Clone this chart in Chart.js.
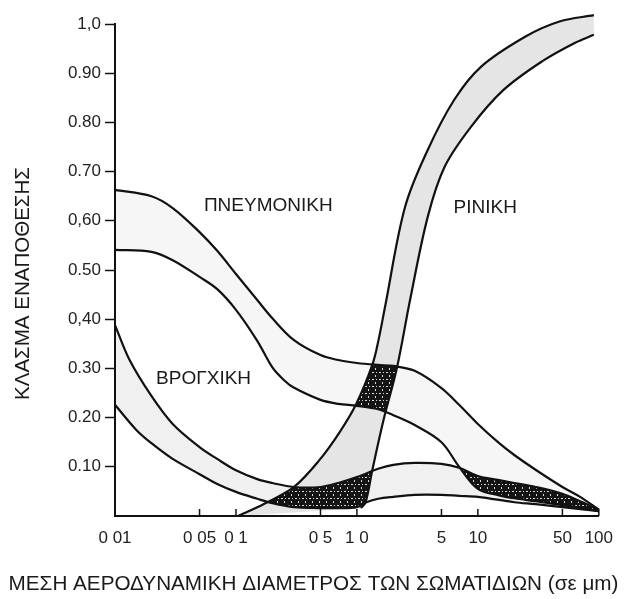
<!DOCTYPE html>
<html>
<head>
<meta charset="utf-8">
<style>
html,body{margin:0;padding:0;background:#fff;}
#wrap{width:625px;height:599px;position:relative;}
</style>
<script src="https://cdn.jsdelivr.net/npm/chart.js@4.4.1/dist/chart.umd.min.js"></script>
</head>
<body>
<div id="wrap"><canvas id="c" width="625" height="599"></canvas></div>
<script>
// ---- tick values and labels ----
const xTickValues = [0.01, 0.05, 0.1, 0.5, 1, 5, 10, 50, 100];
const xTickLabels = ['0 01', '0 05', '0 1', '0 5', '1 0', '5', '10', '50', '100'];
const yTickValues = [0.1, 0.2, 0.3, 0.4, 0.5, 0.6, 0.7, 0.8, 0.9, 1.0];
const yTickLabels = ['0.10', '0.20', '0.30', '0,40', '0.50', '0,60', '0.70', '0.80', '0.90', '1,0'];

// ---- ΠΝΕΥΜΟΝΙΚΗ band (pulmonary) ----
const pulmUpperX = [0.01, 0.02, 0.03, 0.05, 0.07, 0.1, 0.15, 0.2, 0.3, 0.5, 0.7, 1, 1.5, 2, 3, 5, 7, 10, 15, 20, 30, 50, 70, 100];
const pulmUpperY = [0.663, 0.650, 0.626, 0.577, 0.539, 0.492, 0.439, 0.402, 0.358, 0.327, 0.317, 0.311, 0.307, 0.305, 0.295, 0.260, 0.226, 0.187, 0.148, 0.124, 0.094, 0.059, 0.039, 0.013];
const pulmLowerX = [0.01, 0.02, 0.03, 0.05, 0.07, 0.1, 0.15, 0.2, 0.25, 0.3, 0.5, 0.7, 1, 1.5, 2, 3, 5, 7, 10, 15, 20, 30, 50, 70, 100];
const pulmLowerY = [0.541, 0.537, 0.520, 0.486, 0.461, 0.419, 0.356, 0.302, 0.276, 0.261, 0.236, 0.228, 0.224, 0.217, 0.205, 0.185, 0.150, 0.100, 0.055, 0.042, 0.036, 0.030, 0.022, 0.017, 0.010];

// ---- ΒΡΟΓΧΙΚΗ band (tracheobronchial) ----
const bronchUpperX = [0.01, 0.0132, 0.02, 0.03, 0.05, 0.07, 0.1, 0.15, 0.2, 0.3, 0.5, 0.7, 1, 1.5, 2, 3, 5, 7, 10, 15, 20, 30, 50, 70, 100];
const bronchUpperY = [0.388, 0.317, 0.244, 0.187, 0.140, 0.116, 0.093, 0.075, 0.067, 0.059, 0.059, 0.067, 0.079, 0.096, 0.104, 0.108, 0.106, 0.098, 0.081, 0.073, 0.067, 0.059, 0.045, 0.030, 0.013];
const bronchLowerX = [0.01, 0.015, 0.02, 0.03, 0.05, 0.07, 0.1, 0.15, 0.2, 0.3, 0.5, 0.7, 1, 1.2, 1.5, 2, 3, 5, 7, 10, 20, 30, 50, 100];
const bronchLowerY = [0.226, 0.175, 0.148, 0.116, 0.085, 0.065, 0.049, 0.035, 0.026, 0.018, 0.016, 0.016, 0.018, 0.028, 0.035, 0.039, 0.043, 0.043, 0.041, 0.039, 0.028, 0.024, 0.018, 0.010];

// ---- ΡΙΝΙΚΗ band (nasal) ----
const nasalLeftX  = [0.104, 0.118, 0.182, 0.302, 0.491, 0.714, 0.98, 1.34, 1.51, 1.72, 2.5, 3.85, 6.38, 10.6, 25, 47.3, 91];
const nasalLeftY  = [0.0, 0.006, 0.028, 0.059, 0.114, 0.169, 0.226, 0.307, 0.358, 0.429, 0.628, 0.744, 0.846, 0.913, 0.975, 1.005, 1.018];
const nasalRightX = [1.078, 1.18, 1.34, 1.66, 2.15, 2.75, 3.85, 5.29, 8.77, 16.3, 34.4, 63.8, 91];
const nasalRightY = [0.016, 0.028, 0.093, 0.195, 0.303, 0.439, 0.608, 0.709, 0.791, 0.866, 0.925, 0.962, 0.978];

// ---- band labels (in data coordinates) ----
const bandNames  = ['ΠΝΕΥΜΟΝΙΚΗ', 'ΡΙΝΙΚΗ', 'ΒΡΟΓΧΙΚΗ'];
const bandLabelX = [0.185, 11.5, 0.054];
const bandLabelY = [0.630, 0.626, 0.278];

const xTitle = 'ΜΕΣΗ ΑΕΡΟΔΥΝΑΜΙΚΗ ΔΙΑΜΕΤΡΟΣ ΤΩΝ ΣΩΜΑΤΙΔΙΩΝ (σε μm)';
const yTitle = 'ΚΛΑΣΜΑ ΕΝΑΠΟΘΕΣΗΣ';

const FONT = '"Liberation Sans", Arial, Helvetica, sans-serif';

function pts(xs, ys) { return xs.map((x, i) => ({ x: x, y: ys[i] })); }

function lineDs(xs, ys) {
  return {
    data: pts(xs, ys),
    borderColor: '#111',
    borderWidth: 2.2,
    pointRadius: 0,
    tension: 0.35,
    fill: false,
    clip: false
  };
}

// bands: [upper/left dataset index, lower/right dataset index, light fill]
const bands = [
  [0, 1, 'rgba(0,0,0,0.035)'],
  [2, 3, 'rgba(0,0,0,0.06)'],
  [4, 5, 'rgba(0,0,0,0.10)']
];

function makeDarkPattern(ctx) {
  const c = document.createElement('canvas');
  c.width = 7; c.height = 7;
  const g = c.getContext('2d');
  g.fillStyle = '#141414';
  g.fillRect(0, 0, 7, 7);
  g.fillStyle = '#d8d8d8';
  g.fillRect(1, 1, 2, 1);
  g.fillRect(4, 4, 1, 2);
  g.fillRect(5, 1, 1, 1);
  return ctx.createPattern(c, 'repeat');
}

function bandPath(ctx, chart, ia, ib) {
  const ma = chart.getDatasetMeta(ia), mb = chart.getDatasetMeta(ib);
  ma.dataset.updateControlPoints(chart.chartArea, ma.iScale.axis);
  mb.dataset.updateControlPoints(chart.chartArea, mb.iScale.axis);
  const a = ma.data, b = mb.data;
  ctx.beginPath();
  ctx.moveTo(a[0].x, a[0].y);
  for (let i = 1; i < a.length; i++) {
    ctx.bezierCurveTo(a[i - 1].cp2x, a[i - 1].cp2y, a[i].cp1x, a[i].cp1y, a[i].x, a[i].y);
  }
  const n = b.length;
  ctx.lineTo(b[n - 1].x, b[n - 1].y);
  for (let i = n - 1; i > 0; i--) {
    ctx.bezierCurveTo(b[i].cp1x, b[i].cp1y, b[i - 1].cp2x, b[i - 1].cp2y, b[i - 1].x, b[i - 1].y);
  }
  ctx.closePath();
}

const bandFillPlugin = {
  id: 'bandFill',
  beforeDatasetsDraw(chart) {
    const ctx = chart.ctx;
    ctx.save();
    bands.forEach(b => {
      bandPath(ctx, chart, b[0], b[1]);
      ctx.fillStyle = b[2];
      ctx.fill();
    });
    const dark = makeDarkPattern(ctx);
    for (let i = 0; i < bands.length; i++) {
      for (let j = i + 1; j < bands.length; j++) {
        ctx.save();
        bandPath(ctx, chart, bands[i][0], bands[i][1]);
        ctx.clip();
        bandPath(ctx, chart, bands[j][0], bands[j][1]);
        ctx.fillStyle = dark;
        ctx.fill();
        ctx.restore();
      }
    }
    ctx.restore();
  }
};

function fitFont(ctx, text, width, base) {
  ctx.font = base + 'px ' + FONT;
  const w = ctx.measureText(text).width;
  return base * width / w;
}

const textPlugin = {
  id: 'texts',
  afterDraw(chart) {
    const ctx = chart.ctx;
    const xs = chart.scales.x, ys = chart.scales.y;
    ctx.save();
    // inner x ticks
    ctx.strokeStyle = '#111';
    ctx.lineWidth = 1.5;
    xTickValues.forEach(v => {
      const px = xs.getPixelForValue(v);
      if (px <= xs.left + 1) return;
      ctx.beginPath();
      ctx.moveTo(px, ys.bottom);
      ctx.lineTo(px, ys.bottom - 7);
      ctx.stroke();
    });
    ctx.fillStyle = '#1a1a1a';
    ctx.textAlign = 'center';
    ctx.textBaseline = 'middle';
    // band labels
    ctx.font = '19px ' + FONT;
    bandNames.forEach((t, i) => {
      ctx.fillText(t, xs.getPixelForValue(bandLabelX[i]), ys.getPixelForValue(bandLabelY[i]));
    });
    // x title
    let fs = fitFont(ctx, xTitle, 610, 18);
    ctx.font = fs.toFixed(2) + 'px ' + FONT;
    ctx.fillText(xTitle, 313.5, 584);
    // y title
    fs = fitFont(ctx, yTitle, 233, 19);
    ctx.font = fs.toFixed(2) + 'px ' + FONT;
    ctx.translate(23.5, 283.5);
    ctx.rotate(-Math.PI / 2);
    ctx.fillText(yTitle, 0, 0);
    ctx.restore();
  }
};

new Chart(document.getElementById('c'), {
  type: 'line',
  data: {
    datasets: [
      lineDs(pulmUpperX, pulmUpperY),
      lineDs(pulmLowerX, pulmLowerY),
      lineDs(bronchUpperX, bronchUpperY),
      lineDs(bronchLowerX, bronchLowerY),
      lineDs(nasalLeftX, nasalLeftY),
      lineDs(nasalRightX, nasalRightY)
    ]
  },
  options: {
    responsive: false,
    animation: false,
    devicePixelRatio: 1,
    layout: { padding: { top: 24, right: 18, left: 0, bottom: 0 } },
    elements: { line: { capBezierPoints: false } },
    plugins: { legend: { display: false }, tooltip: { enabled: false } },
    scales: {
      x: {
        type: 'logarithmic',
        min: 0.01,
        max: 100,
        afterBuildTicks: s => { s.ticks = xTickValues.map(v => ({ value: v })); },
        afterFit: s => { s.height = 83; },
        grid: { display: false, drawTicks: false },
        border: { display: true, color: '#111', width: 2 },
        ticks: {
          autoSkip: false, maxRotation: 0, minRotation: 0, padding: 12,
          color: '#222', font: { family: FONT, size: 17 },
          callback: (v, i) => xTickLabels[i]
        }
      },
      y: {
        type: 'linear',
        min: 0,
        max: 1,
        afterBuildTicks: s => { s.ticks = yTickValues.map(v => ({ value: v })); },
        afterFit: s => { s.width = 115; },
        grid: { drawOnChartArea: false, drawTicks: true, tickLength: 10, tickColor: '#111', tickWidth: 1.5 },
        border: { display: true, color: '#111', width: 2 },
        ticks: {
          autoSkip: false, padding: 4,
          color: '#222', font: { family: FONT, size: 17 },
          callback: (v, i) => yTickLabels[i]
        }
      }
    }
  },
  plugins: [bandFillPlugin, textPlugin]
});
</script>
</body>
</html>
